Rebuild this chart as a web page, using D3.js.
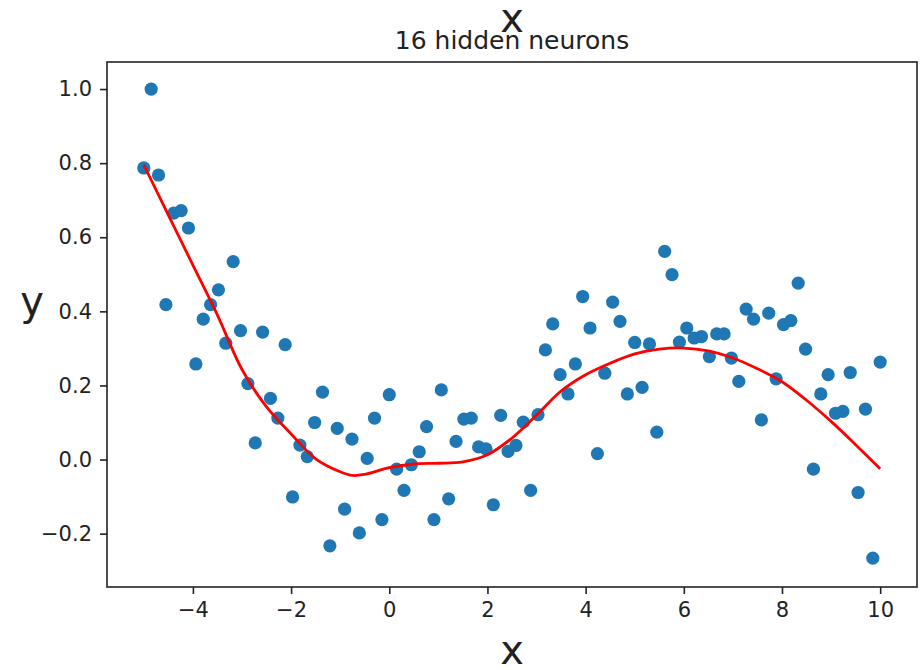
<!DOCTYPE html>
<html>
<head>
<meta charset="utf-8">
<script src="https://cdn.jsdelivr.net/npm/d3@7"></script>
<style>
  body { margin: 0; background: #fff; }
  text { font-family: "DejaVu Sans", sans-serif; fill: #222; }
</style>
</head>
<body>
<svg id="myGraph" width="924" height="670"></svg>
<script>
// sample points
var xValues = [-5.00, -4.85, -4.70, -4.55, -4.39, -4.24, -4.09, -3.94, -3.79, -3.64,
  -3.48, -3.33, -3.18, -3.03, -2.88, -2.73, -2.58, -2.42, -2.27, -2.12,
  -1.97, -1.82, -1.67, -1.52, -1.36, -1.21, -1.06, -0.91, -0.76, -0.61,
  -0.45, -0.30, -0.15, 0.00, 0.15, 0.30, 0.45, 0.61, 0.76, 0.91,
  1.06, 1.21, 1.36, 1.52, 1.67, 1.82, 1.97, 2.12, 2.27, 2.42,
  2.58, 2.73, 2.88, 3.03, 3.18, 3.33, 3.48, 3.64, 3.79, 3.94,
  4.09, 4.24, 4.39, 4.55, 4.70, 4.85, 5.00, 5.15, 5.30, 5.45,
  5.61, 5.76, 5.91, 6.06, 6.21, 6.36, 6.52, 6.67, 6.82, 6.97,
  7.12, 7.27, 7.42, 7.58, 7.73, 7.88, 8.03, 8.18, 8.33, 8.48,
  8.64, 8.79, 8.94, 9.09, 9.24, 9.39, 9.55, 9.70, 9.85, 10.00]
var yValues = [0.787, 1.000, 0.768, 0.418, 0.665, 0.672, 0.625, 0.258, 0.379, 0.418,
  0.458, 0.314, 0.534, 0.348, 0.205, 0.045, 0.344, 0.165, 0.112, 0.310,
  -0.101, 0.039, 0.008, 0.100, 0.182, -0.233, 0.084, -0.134, 0.055, -0.198,
  0.003, 0.112, -0.162, 0.175, -0.026, -0.083, -0.014, 0.021, 0.089, -0.162,
  0.188, -0.106, 0.049, 0.109, 0.112, 0.034, 0.029, -0.122, 0.119, 0.022,
  0.038, 0.101, -0.083, 0.121, 0.296, 0.366, 0.229, 0.177, 0.258, 0.440,
  0.355, 0.016, 0.233, 0.425, 0.373, 0.177, 0.316, 0.195, 0.312, 0.074,
  0.562, 0.499, 0.317, 0.355, 0.328, 0.332, 0.278, 0.339, 0.339, 0.274,
  0.211, 0.406, 0.379, 0.107, 0.395, 0.218, 0.364, 0.375, 0.476, 0.298,
  -0.026, 0.177, 0.229, 0.125, 0.130, 0.235, -0.089, 0.136, -0.266, 0.263]

// network prediction (red curve)
var fitX = [-5.0, -4.5, -4.0, -3.5, -3.0, -2.5, -2.0, -1.5, -1.0, -0.75, -0.5, 0.0,
  0.5, 1.0, 1.5, 2.0, 2.5, 3.0, 3.5, 4.0, 4.5, 5.0, 5.5, 6.0,
  6.5, 7.0, 7.5, 8.0, 8.5, 9.0, 9.5, 10.0]
var fitY = [0.795, 0.66, 0.525, 0.39, 0.243, 0.142, 0.069, 0.002, -0.033, -0.043, -0.04, -0.022,
  -0.012, -0.01, -0.006, 0.013, 0.058, 0.12, 0.185, 0.229, 0.26, 0.285, 0.298, 0.301,
  0.293, 0.274, 0.245, 0.21, 0.16, 0.103, 0.04, -0.025]

var xTicks = [-4, -2, 0, 2, 4, 6, 8, 10]
var yTicks = [-0.2, 0.0, 0.2, 0.4, 0.6, 0.8, 1.0]

// axes box in pixels
var boxLeft = 107, boxRight = 917, boxTop = 62, boxBottom = 587

var svg = d3.select("#myGraph")

var xScale = d3.scaleLinear()
        .domain([-5.75, 10.75])
        .range([boxLeft, boxRight])
var yScale = d3.scaleLinear()
        .domain([-0.344, 1.073])
        .range([boxBottom, boxTop])

// points
svg.append("g")
    .selectAll("circle")
    .data(d3.zip(xValues, yValues))
    .enter()
    .append("circle")
    .attr("cx", d => xScale(d[0]))
    .attr("cy", d => yScale(d[1]))
    .attr("r", 6.6)
    .style("fill", "#1f77b4")

// fitted curve
var line = d3.line()
        .x(d => xScale(d[0]))
        .y(d => yScale(d[1]))
        .curve(d3.curveCatmullRom)

svg.append("path")
    .datum(d3.zip(fitX, fitY))
    .attr("d", line)
    .style("fill", "none")
    .style("stroke", "#ff0000")
    .style("stroke-width", 2.8)

// axes
var xAxis = d3.axisBottom(xScale)
        .tickValues(xTicks)
        .tickSize(7)
        .tickPadding(8)
        .tickFormat(d3.format("d"))
var yAxis = d3.axisLeft(yScale)
        .tickValues(yTicks)
        .tickSize(7)
        .tickPadding(8)
        .tickFormat(d3.format(".1f"))

svg.append("g")
    .attr("class", "axis")
    .attr("transform", "translate(0," + boxBottom + ")")
    .call(xAxis)
svg.append("g")
    .attr("class", "axis")
    .attr("transform", "translate(" + boxLeft + ",0)")
    .call(yAxis)

svg.selectAll(".axis .domain").remove()
svg.selectAll(".axis line")
    .style("stroke", "#222")
    .style("stroke-width", 1.6)
svg.selectAll(".axis text")
    .style("font-size", "21px")
    .style("font-family", "'DejaVu Sans', sans-serif")
    .style("fill", "#222")

// frame
svg.append("rect")
    .attr("x", boxLeft)
    .attr("y", boxTop)
    .attr("width", boxRight - boxLeft)
    .attr("height", boxBottom - boxTop)
    .style("fill", "none")
    .style("stroke", "#222")
    .style("stroke-width", 1.6)

// labels
svg.append("text")
    .attr("x", (boxLeft + boxRight) / 2)
    .attr("y", 32)
    .attr("text-anchor", "middle")
    .style("font-size", "40px")
    .text("x")
svg.append("text")
    .attr("x", (boxLeft + boxRight) / 2)
    .attr("y", 49)
    .attr("text-anchor", "middle")
    .style("font-size", "25px")
    .text("16 hidden neurons")
svg.append("text")
    .attr("x", (boxLeft + boxRight) / 2)
    .attr("y", 664)
    .attr("text-anchor", "middle")
    .style("font-size", "40px")
    .text("x")
svg.append("text")
    .attr("x", 32)
    .attr("y", 315)
    .attr("text-anchor", "middle")
    .style("font-size", "40px")
    .text("y")
</script>
</body>
</html>
